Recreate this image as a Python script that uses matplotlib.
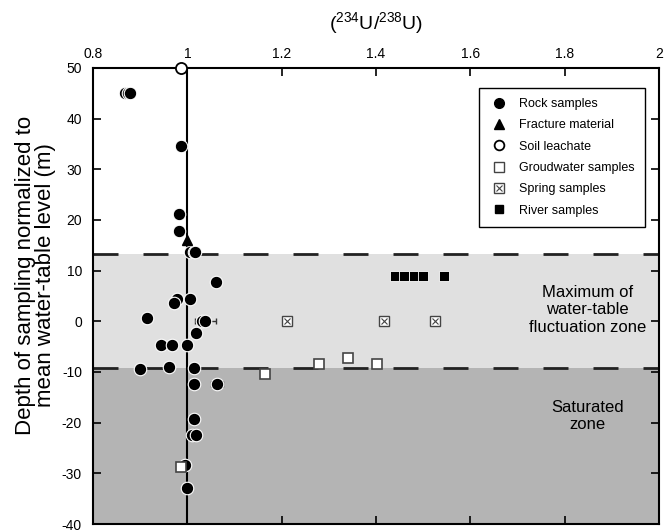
import matplotlib
matplotlib.use("Agg")
import matplotlib.pyplot as plt
from matplotlib.lines import Line2D

plt.rcParams['font.family'] = ['Liberation Sans', 'DejaVu Sans']
plt.rcParams['mathtext.default'] = 'regular'
plt.rcParams['axes.unicode_minus'] = False

# rock samples (234U/238U, depth m, x error)
rock_x = [0.868, 0.874, 0.878, 0.987, 0.983, 0.983, 1.006, 1.013, 1.017, 1.060,
          0.977, 1.005, 0.971, 0.914, 1.031, 1.038, 1.019, 0.943, 0.967, 1.000,
          0.900, 0.960, 1.013, 1.013, 1.063, 1.013, 1.009, 1.018, 0.994, 1.000]
rock_y = [45, 45, 45, 34.5, 21.2, 17.8, 13.6, 13.6, 13.6, 7.7,
          4.4, 4.4, 3.6, 0.6, 0, 0, -2.3, -4.6, -4.6, -4.6,
          -9.4, -9.0, -9.2, -12.4, -12.4, -19.3, -22.4, -22.4, -28.4, -32.8]
rock_err = [0, 0, 0, 0, 0, 0.006, 0, 0, 0, 0,
            0, 0, 0, 0.006, 0, 0.022, 0, 0, 0, 0,
            0, 0.008, 0, 0.004, 0.012, 0.005, 0.006, 0, 0, 0]

fracture_x = [0.999]
fracture_y = [16.0]

soil_x = [0.986]
soil_y = [50]

gw_x = [0.987, 1.165, 1.279, 1.340, 1.402]
gw_y = [-28.8, -10.4, -8.4, -7.3, -8.5]

spring_x = [1.212, 1.417, 1.524]
spring_y = [0, 0, 0]

river_x = [1.441, 1.460, 1.480, 1.499, 1.544]
river_y = [9, 9, 9, 9, 9]
river_err = [0, 0, 0, 0, 0.006]

zone_top = 13.3
zone_bottom = -9.3

fig = plt.figure(figsize=(6.65, 5.3), dpi=100)
ax = fig.add_axes([0.14, 0.0113, 0.851, 0.8607])

ax.axhspan(zone_bottom, zone_top, color='#e0e0e0', zorder=0, lw=0)
ax.axhspan(-40, zone_bottom, color='#b4b4b4', zorder=0, lw=0)
ax.axhline(zone_top, color='#222222', lw=2, dashes=(9, 9), zorder=1)
ax.axhline(zone_bottom, color='#222222', lw=2, dashes=(9, 9), zorder=1)
ax.axvline(1.0, color='black', lw=1.5, zorder=2)

ax.errorbar(rock_x, rock_y, xerr=rock_err, fmt='none', ecolor='#333333',
            elinewidth=1, capsize=2, zorder=3)
ax.plot(rock_x, rock_y, 'o', color='black', mec='white', mew=0.8, ms=9, zorder=4)
ax.plot(fracture_x, fracture_y, '^', color='black', ms=7, zorder=4)
ax.plot(soil_x, soil_y, 'o', mfc='white', mec='black', mew=1.3, ms=8,
        zorder=6, clip_on=False)
ax.plot(gw_x, gw_y, 's', mfc='white', mec='#444444', mew=1.2, ms=7, zorder=4)
ax.plot(spring_x, spring_y, 's', mfc='white', mec='#444444', mew=1, ms=7, zorder=4)
ax.plot(spring_x, spring_y, 'x', color='#444444', mew=0.8, ms=5, zorder=5)
ax.errorbar(river_x, river_y, xerr=river_err, fmt='none', ecolor='#333333',
            elinewidth=1, capsize=2, zorder=3)
ax.plot(river_x, river_y, 's', color='black', mec='white', mew=0.6, ms=7, zorder=4)

ax.text(1.848, 2.3, 'Maximum of\nwater-table\nfluctuation zone', ha='center',
        va='center', fontsize=12, linespacing=1.2)
ax.text(1.848, -18.7, 'Saturated\nzone', ha='center', va='center',
        fontsize=12, linespacing=1.2)

ax.set_xlim(0.8, 2.0)
ax.set_ylim(-40, 50)
ax.set_xticks([0.8, 1.0, 1.2, 1.4, 1.6, 1.8, 2.0])
ax.set_xticklabels(['0.8', '1', '1.2', '1.4', '1.6', '1.8', '2'])
ax.set_yticks(range(-40, 51, 10))
ax.xaxis.tick_top()
ax.tick_params(axis='both', direction='in', length=6, width=1.2, labelsize=10,
               top=True, bottom=True, left=True, right=True,
               labeltop=True, labelbottom=False)
ax.tick_params(axis='x', pad=5)
ax.tick_params(axis='y', pad=8)
for s in ax.spines.values():
    s.set_linewidth(1.5)

ax.set_title(r'($^{234}$U/$^{238}$U)', fontsize=14, pad=28)
ax.set_ylabel('Depth of sampling normalized to\nmean water-table level (m)',
              fontsize=16, linespacing=0.95)
ax.yaxis.set_label_coords(-0.065, 0.546)

handles = [
    Line2D([], [], ls='none', marker='o', color='black', ms=7),
    Line2D([], [], ls='none', marker='^', color='black', ms=7),
    Line2D([], [], ls='none', marker='o', mfc='white', mec='black', mew=1.3, ms=7),
    Line2D([], [], ls='none', marker='s', mfc='white', mec='#444444', ms=7),
    (Line2D([], [], ls='none', marker='s', mfc='white', mec='#444444', ms=7),
     Line2D([], [], ls='none', marker='x', color='#444444', ms=5, mew=0.8)),
    Line2D([], [], ls='none', marker='s', color='black', ms=6),
]
labels = ['Rock samples', 'Fracture material', 'Soil leachate',
          'Groudwater samples', 'Spring samples', 'River samples']
leg = ax.legend(handles, labels, loc='upper right', bbox_to_anchor=(0.975, 0.956),
                fontsize=9, frameon=True, fancybox=False, edgecolor='black',
                framealpha=1, labelspacing=0.75, handletextpad=0.9,
                borderpad=0.8, borderaxespad=0, handlelength=1.5)
leg.get_frame().set_linewidth(1)

fig.savefig('out.png', dpi=100)
